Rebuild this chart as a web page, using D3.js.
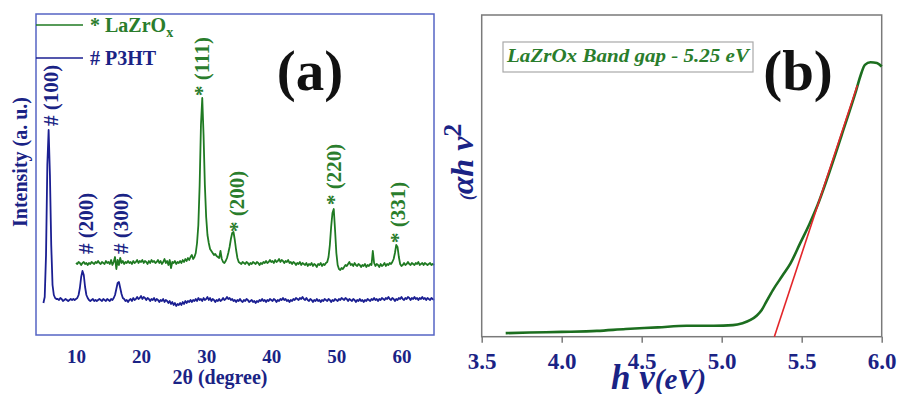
<!DOCTYPE html>
<html><head><meta charset="utf-8">
<script src="https://cdn.jsdelivr.net/npm/d3@7"></script>
<style>html,body{margin:0;padding:0;background:#fff;}svg{display:block;}</style>
</head><body>
<svg id="c" width="901" height="394"></svg>
<script>
// ---------- Panel (a): XRD data ----------
const blueStart = 5.0, blueStep = 0.2; // 2θ sampling grid for P3HT
const p3htCounts = [
  32,38,80,170,205,160,90,50,40,37,
  36,36,35,37,36,34,35,36,35,34,
  35,36,35,36,35,36,37,40,47,58,
  64,60,48,40,37,35,34,35,36,34,
  35,34,35,36,35,34,36,35,34,36,
  35,34,36,35,37,40,46,52,53,47,
  41,37,36,34,35,33,35,36,34,37,
  35,36,38,36,37,39,36,38,37,35,
  37,36,34,36,35,37,34,36,35,33,
  35,34,36,33,35,34,32,34,31,33,
  30,32,29,31,30,32,30,33,31,34,
  32,34,33,35,33,35,34,36,34,37,
  35,36,34,37,35,36,38,35,37,34,
  36,35,33,35,34,36,34,35,37,35,
  36,38,36,37,35,36,34,35,33,35,
  34,36,34,33,35,34,36,35,33,34,
  35,33,34,32,34,33,35,34,36,34,
  35,33,35,34,36,35,34,36,35,33,
  35,34,36,35,37,35,36,34,35,33,
  35,34,36,35,37,36,35,37,36,38,
  36,35,37,35,34,36,35,33,35,34,
  36,34,35,33,35,34,36,35,34,36,
  35,33,35,34,36,35,34,36,35,37,
  36,35,37,36,34,36,35,34,36,35,
  33,35,34,36,34,35,33,35,34,36,
  35,34,36,35,37,35,36,34,36,35,
  37,36,35,37,36,38,36,35,37,36,
  34,36,35,37,36,38,36,35,37,36,
  38,37,35,37,36,38,36,37,35,37,
  36,38,36,37,35,37,36,35,37,36,
  35
];
const greenStart = 10.0, greenStep = 0.2; // 2θ sampling grid for LaZrOx
const lazroxCounts = [
  72,71,73,72,70,72,73,71,72,70,
  72,71,73,72,71,73,72,74,72,71,
  73,72,71,74,72,73,71,75,70,73,
  78,66,75,70,77,72,74,71,73,72,
  74,72,73,71,74,72,73,75,72,74,
  73,75,72,74,73,71,74,72,75,73,
  74,72,73,75,72,74,71,73,76,72,
  74,70,75,67,73,72,74,71,73,72,
  74,72,75,73,76,74,77,75,78,80,
  76,78,82,92,110,150,210,237,200,150,
  118,100,92,86,84,82,80,81,79,78,
  77,84,76,73,72,74,77,82,88,96,
  102,103,95,85,77,73,72,71,73,72,
  71,73,72,70,72,71,73,72,71,73,
  72,70,72,71,73,72,74,72,73,75,
  73,74,72,75,73,74,76,73,75,74,
  72,74,73,75,72,73,71,73,72,70,
  72,71,73,70,72,71,70,72,69,71,
  70,72,69,71,70,68,71,70,72,69,
  71,70,72,73,78,90,108,122,126,105,
  82,70,66,65,67,66,68,70,69,71,
  73,70,71,69,72,70,69,71,70,68,
  70,69,71,68,70,69,71,70,84,72,
  69,71,70,68,71,69,70,72,69,71,
  70,72,71,73,76,82,90,88,78,71,
  69,70,72,70,71,73,71,70,72,71,
  70,72,71,73,70,71,72,70,72,71,
  70,71,72,70,71,70
];
const xrdTicks = [10,20,30,40,50,60];
const peakLabels = ["# (100)","* (111)","# (200)","# (300)","* (200)","* (220)","* (331)"];
const peakLabelTheta = [6.16, 29.3, 11.54, 16.86, 34.72, 49.6, 59.43];
const peakLabelLevel = [209, 239, 81, 81, 103, 130, 92];
const peakLabelSeries = ["p","l","p","p","l","l","l"];

// ---------- Panel (b): Tauc plot data ----------
const photonEnergy = [3.65,3.8,4.0,4.22,4.4,4.6,4.78,4.95,5.07,5.13,5.18,5.22,5.25,5.28,5.32,5.38,5.43,5.49,5.55,5.6,5.656,5.75,5.84,5.87,5.895,5.93,5.97,6.0];
const ahv2 = [0.011,0.013,0.015,0.018,0.024,0.029,0.034,0.034,0.036,0.042,0.052,0.066,0.083,0.11,0.145,0.19,0.228,0.29,0.352,0.41,0.487,0.627,0.765,0.815,0.845,0.853,0.851,0.84];
const fitEnergy = [5.329, 5.848];
const fitValue = [0, 0.782];
const taucTicks = [3.5,4.0,4.5,5.0,5.5,6.0];

const GREEN = "#1f7a22", GREENTXT = "#2a7d2c", NAVY = "#1a2385", BLUE_LINE = "#1b1f92";
const FRAME_A = "#5564c4", FRAME_B = "#7a7a7a", RED = "#e3262a";
const SERIF = "'Liberation Serif','Times New Roman',serif";

const svg = d3.select("#c");

// ===== Panel (a) =====
const xa = d3.scaleLinear().domain([3.86, 65]).range([36, 434]);
const ya = d3.scaleLinear().domain([0, 321]).range([335, 14]);
const ga = svg.append("g");

const lineA = d3.line().x(d => xa(d[0])).y(d => ya(d[1]));
const p3ht = p3htCounts.map((v,i) => [blueStart + i*blueStep, v]);
const lazrox = lazroxCounts.map((v,i) => [greenStart + i*greenStep, v]);

ga.append("path").datum(p3ht).attr("d", lineA).attr("fill","none")
  .attr("stroke", BLUE_LINE).attr("stroke-width", 1.8).attr("stroke-linejoin","round");
ga.append("path").datum(lazrox).attr("d", lineA).attr("fill","none")
  .attr("stroke", GREEN).attr("stroke-width", 1.8).attr("stroke-linejoin","round");

// frame
ga.append("rect").attr("x", 36).attr("y", 14).attr("width", 398).attr("height", 321)
  .attr("fill","none").attr("stroke", FRAME_A).attr("stroke-width", 1.5);

// axis
const axA = ga.append("g").attr("transform","translate(0,335)")
  .call(d3.axisBottom(xa).tickValues(xrdTicks).tickSize(0).tickPadding(14.5));
axA.select(".domain").remove();
axA.selectAll("text").attr("font-family", SERIF).attr("font-weight","bold")
  .attr("font-size", 19).attr("fill", NAVY);

ga.append("text").attr("x", 220).attr("y", 384).attr("text-anchor","middle")
  .attr("font-family", SERIF).attr("font-weight","bold").attr("font-size", 20)
  .attr("fill", NAVY).text("2θ (degree)");
ga.append("text").attr("transform","translate(20,162) rotate(-90)").attr("dy","0.35em")
  .attr("text-anchor","middle").attr("font-family", SERIF).attr("font-weight","bold")
  .attr("font-size", 20).attr("fill", NAVY).text("Intensity (a. u.)");

// legend
ga.append("line").attr("x1",36).attr("x2",83).attr("y1",25).attr("y2",25)
  .attr("stroke", GREEN).attr("stroke-width",1.5);
ga.append("line").attr("x1",36).attr("x2",83).attr("y1",58).attr("y2",58)
  .attr("stroke", BLUE_LINE).attr("stroke-width",1.5);
const lg1 = ga.append("text").attr("x", 90).attr("y", 32).attr("font-family", SERIF)
  .attr("font-weight","bold").attr("font-size", 20).attr("fill", GREENTXT);
lg1.append("tspan").text("* LaZrO");
lg1.append("tspan").attr("font-size", 14).attr("dy", 5).text("x");
ga.append("text").attr("x", 90).attr("y", 65).attr("font-family", SERIF)
  .attr("font-weight","bold").attr("font-size", 20).attr("fill", NAVY).text("# P3HT");

// peak labels
peakLabels.forEach((t,i) => {
  ga.append("text")
    .attr("transform", `translate(${xa(peakLabelTheta[i])},${ya(peakLabelLevel[i])}) rotate(-90)`)
    .attr("dy","0.35em").attr("font-family", SERIF).attr("font-weight","bold")
    .attr("font-size", 21).attr("fill", peakLabelSeries[i] === "p" ? NAVY : GREENTXT)
    .text(t);
});

ga.append("text").attr("x", 310).attr("y", 90).attr("text-anchor","middle")
  .attr("font-family", SERIF).attr("font-weight","bold").attr("font-size", 57)
  .attr("fill","#111").text("(a)");

// ===== Panel (b) =====
const xb = d3.scaleLinear().domain([3.5, 6.0]).range([481.7, 881.7]);
const yb = d3.scaleLinear().domain([0, 1]).range([336.7, 15]);
const gb = svg.append("g");

gb.append("rect").attr("x", 481.7).attr("y", 15).attr("width", 400).attr("height", 321.7)
  .attr("fill","none").attr("stroke", FRAME_B).attr("stroke-width", 1.5);

const axB = gb.append("g").attr("transform","translate(0,336.7)")
  .call(d3.axisBottom(xb).tickValues(taucTicks).tickFormat(d3.format(".1f")).tickSize(6).tickPadding(10));
axB.select(".domain").remove();
axB.selectAll("line").attr("stroke", FRAME_B).attr("stroke-width", 1.5);
axB.selectAll("text").attr("font-family", SERIF).attr("font-weight","bold")
  .attr("font-size", 23).attr("fill", NAVY);

const lineB = d3.line().x(d => xb(d[0])).y(d => yb(d[1])).curve(d3.curveMonotoneX);
gb.append("path").datum(photonEnergy.map((e,i) => [e, ahv2[i]])).attr("d", lineB)
  .attr("fill","none").attr("stroke", "#1c6e1f").attr("stroke-width", 2.6);
gb.append("path").datum(fitEnergy.map((e,i) => [e, fitValue[i]]))
  .attr("d", d3.line().x(d => xb(d[0])).y(d => yb(d[1])))
  .attr("fill","none").attr("stroke", RED).attr("stroke-width", 1.6);

// legend box
gb.append("rect").attr("x", 503).attr("y", 42).attr("width", 250).attr("height", 30)
  .attr("fill","#fff").attr("stroke","#a8a8a8").attr("stroke-width", 1.2);
gb.append("text").attr("x", 507).attr("y", 62).attr("font-family", SERIF)
  .attr("font-weight","bold").attr("font-style","italic").attr("font-size", 19)
  .attr("textLength", 242).attr("lengthAdjust","spacingAndGlyphs")
  .attr("fill", GREENTXT).text("LaZrOx Band gap - 5.25 eV");

gb.append("text").attr("x", 798).attr("y", 90).attr("text-anchor","middle")
  .attr("font-family", SERIF).attr("font-weight","bold").attr("font-size", 57)
  .attr("fill","#111").text("(b)");

// axis titles
const xt = gb.append("text").attr("x", 611).attr("y", 389).attr("font-family", SERIF)
  .attr("font-weight","bold").attr("font-style","italic").attr("fill", NAVY);
xt.append("tspan").attr("font-size", 35).text("h ν");
xt.append("tspan").attr("font-size", 29).text("(eV)");

const yt = gb.append("text").attr("transform","translate(473,162) rotate(-90)")
  .attr("text-anchor","middle").attr("font-family", SERIF).attr("font-weight","bold")
  .attr("font-style","italic").attr("fill", NAVY);
yt.append("tspan").attr("font-size", 18).text("(");
yt.append("tspan").attr("font-size", 32).text("αh ν");
yt.append("tspan").attr("font-size", 26).attr("font-style","normal").attr("dy", -12).text("2");
</script>
</body></html>
